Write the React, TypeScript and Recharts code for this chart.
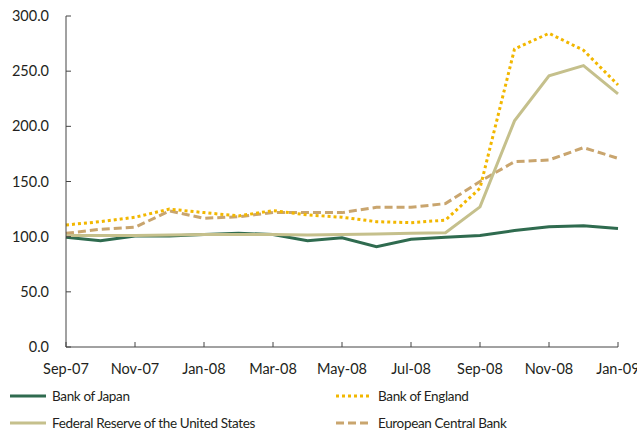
import React from 'react';
import { LineChart, Line, XAxis, YAxis, Legend } from 'recharts';

const months = ['Sep-07','Oct-07','Nov-07','Dec-07','Jan-08','Feb-08','Mar-08','Apr-08','May-08','Jun-08','Jul-08','Aug-08','Sep-08','Oct-08','Nov-08','Dec-08','Jan-09'];
const bankOfJapan = [99.4, 96.4, 100.6, 100.5, 102, 103, 102, 96.4, 99, 91, 97.6, 99.4, 101, 105.5, 109, 110, 107.3];
const federalReserve = [101, 101, 101, 101.5, 102, 102, 102, 101.5, 102, 102.5, 103, 103.5, 127, 205, 245.7, 255, 229.4];
const bankOfEngland = [110.6, 113.6, 117.6, 125, 121.8, 118.8, 123.6, 119.7, 117.6, 113.6, 112.7, 115, 143.9, 270, 284.3, 269, 237.5];
const ecb = [103, 106.7, 108.5, 123.3, 116.7, 118, 122, 121.8, 121.8, 126.6, 126.6, 130, 150, 168, 169.5, 180.7, 171];
const xTicks = ['Sep-07','Nov-07','Jan-08','Mar-08','May-08','Jul-08','Sep-08','Nov-08','Jan-09'];
const yTicks = [0, 50, 100, 150, 200, 250, 300];

const data = months.map((m, i) => ({
  month: m,
  boj: bankOfJapan[i],
  fed: federalReserve[i],
  boe: bankOfEngland[i],
  ecb: ecb[i],
}));

const FONT = 'Lato, "Open Sans", sans-serif';
const TEXT = '#231f20';

const series = [
  { key: 'boj', name: 'Bank of Japan', color: '#2f6b4f', dash: undefined as string | undefined },
  { key: 'boe', name: 'Bank of England', color: '#f2b700', dash: '3 3' },
  { key: 'fed', name: 'Federal Reserve of the United States', color: '#c5c08c', dash: undefined },
  { key: 'ecb', name: 'European Central Bank', color: '#c9a56e', dash: '8 4' },
];
const drawOrder = ['boj', 'ecb', 'fed', 'boe'];

const LegendContent = () => (
  <div style={{ position: 'relative', width: 637, height: 56, fontFamily: FONT, fontSize: 13.5, letterSpacing: -0.35, color: TEXT }}>
    {series.map((s, i) => {
      const col = i % 2;
      const row = Math.floor(i / 2);
      const left = col === 0 ? 10 : 336;
      const top = row === 0 ? 10 : 37;
      return (
        <div key={s.key} style={{ position: 'absolute', left, top, height: 18, display: 'flex', alignItems: 'center', whiteSpace: 'nowrap' }}>
          <svg width={36} height={6} style={{ marginRight: 6 }}>
            <line x1={0} y1={3} x2={36} y2={3} stroke={s.color} strokeWidth={3} strokeDasharray={s.dash} />
          </svg>
          <span>{s.name}</span>
        </div>
      );
    })}
  </div>
);

export default function App() {
  return (
    <div style={{ position: 'absolute', left: 0, top: 0 }}>
      <LineChart width={637} height={433} data={data} margin={{ top: 16, right: 19, left: 0, bottom: 0 }}>
        <XAxis
          dataKey="month"
          ticks={xTicks}
          interval={0}
          tickSize={-5}
          tickMargin={22}
          height={30}
          stroke="#444"
          tick={{ fill: TEXT, fontSize: 14.5, fontFamily: FONT }}
          padding={{ left: 0, right: 0 }}
        />
        <YAxis
          domain={[0, 300]}
          ticks={yTicks}
          width={66}
          tickSize={-5}
          tickMargin={22}
          stroke="#444"
          tickFormatter={(v: number) => v.toFixed(1)}
          tick={{ fill: TEXT, fontSize: 14.5, fontFamily: FONT }}
        />
        <Legend verticalAlign="bottom" height={56} content={<LegendContent />} />
        {drawOrder.map((k) => {
          const s = series.find((x) => x.key === k)!;
          return (
            <Line
              key={s.key}
              dataKey={s.key}
              name={s.name}
              type="linear"
              stroke={s.color}
              strokeWidth={3}
              strokeDasharray={s.dash}
              dot={false}
              activeDot={false}
              isAnimationActive={false}
            />
          );
        })}
      </LineChart>
    </div>
  );
}
